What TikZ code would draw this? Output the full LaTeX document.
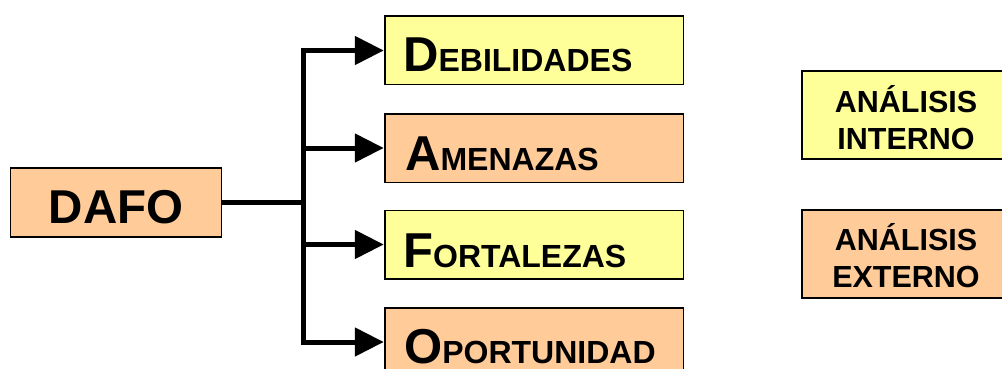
\documentclass[tikz,border=0pt]{standalone}
\usepackage{fontspec}
\setmainfont{Liberation Sans}
\usetikzlibrary{arrows.meta}
\definecolor{boxyellow}{HTML}{FFFF99}
\definecolor{boxorange}{HTML}{FFCC99}
\newcommand{\capsc}[2]{{\fontsize{49}{49}\selectfont #1}{\fontsize{32}{32}\selectfont #2}}
\tikzset{
  bx/.style={draw=black, line width=1.5pt, inner sep=0pt},
  ybox/.style={bx, fill=boxyellow},
  obox/.style={bx, fill=boxorange},
  wide/.style={minimum width=298.5pt, minimum height=68.5pt},
  lbl/.style={inner sep=0pt, anchor=base west, font=\bfseries},
  sidelbl/.style={inner sep=0pt, anchor=base, font=\bfseries\fontsize{30.5}{30.5}\selectfont},
  conn/.style={line width=5pt, line join=miter},
  arr/.style={conn, -{Triangle[length=29pt,width=28pt]}, shorten >=0.5pt}
}
\begin{document}
\begin{tikzpicture}[x=1pt,y=-1pt]
\useasboundingbox (0,0) rectangle (1002,369);
\clip (0,0) rectangle (1002,369);
\fill[white] (0,0) rectangle (1002,369);

% DAFO
\node[obox, minimum width=211pt, minimum height=69pt] (dafo) at (116,202.5) {};
\node[inner sep=0pt, anchor=base, font=\bfseries\fontsize{47.5}{47.5}\selectfont] (dafot) at (116,223) {DAFO};

% right column
\node[ybox, wide] (deb) at (534.25,50.5) {};
\node[obox, wide] (ame) at (534.25,148) {};
\node[ybox, wide] (fort) at (534.25,244.5) {};
\node[obox, wide] (opo) at (534.25,342) {};

\node[lbl] (debt) at (403,72) {\capsc{D}{EBILIDADES}};
\node[lbl] (amet) at (405,170) {\capsc{A}{MENAZAS}};
\node[lbl] (fortt) at (403,267) {\capsc{F}{ORTALEZAS}};
\node[lbl] (opot) at (404,363) {\capsc{O}{PORTUNIDAD}};

% connectors
\coordinate (j) at (303,202.5);
\draw[conn] (dafo.east) -- (j);
\draw[arr] (j) |- (deb.west);
\draw[arr] (j) |- (ame.west);
\draw[arr] (j) |- (fort.west);
\draw[arr] (j) |- (opo.west);

% legend boxes
\node[ybox, minimum width=208pt, minimum height=88pt] (int) at (906,115) {};
\node[sidelbl] (int1) at (906,112) {ANÁLISIS};
\node[sidelbl] (int2) at (906,149) {INTERNO};
\node[obox, minimum width=208pt, minimum height=88pt] (ext) at (906,254) {};
\node[sidelbl] (ext1) at (906,250) {ANÁLISIS};
\node[sidelbl] (ext2) at (906,287) {EXTERNO};
\end{tikzpicture}
\end{document}
